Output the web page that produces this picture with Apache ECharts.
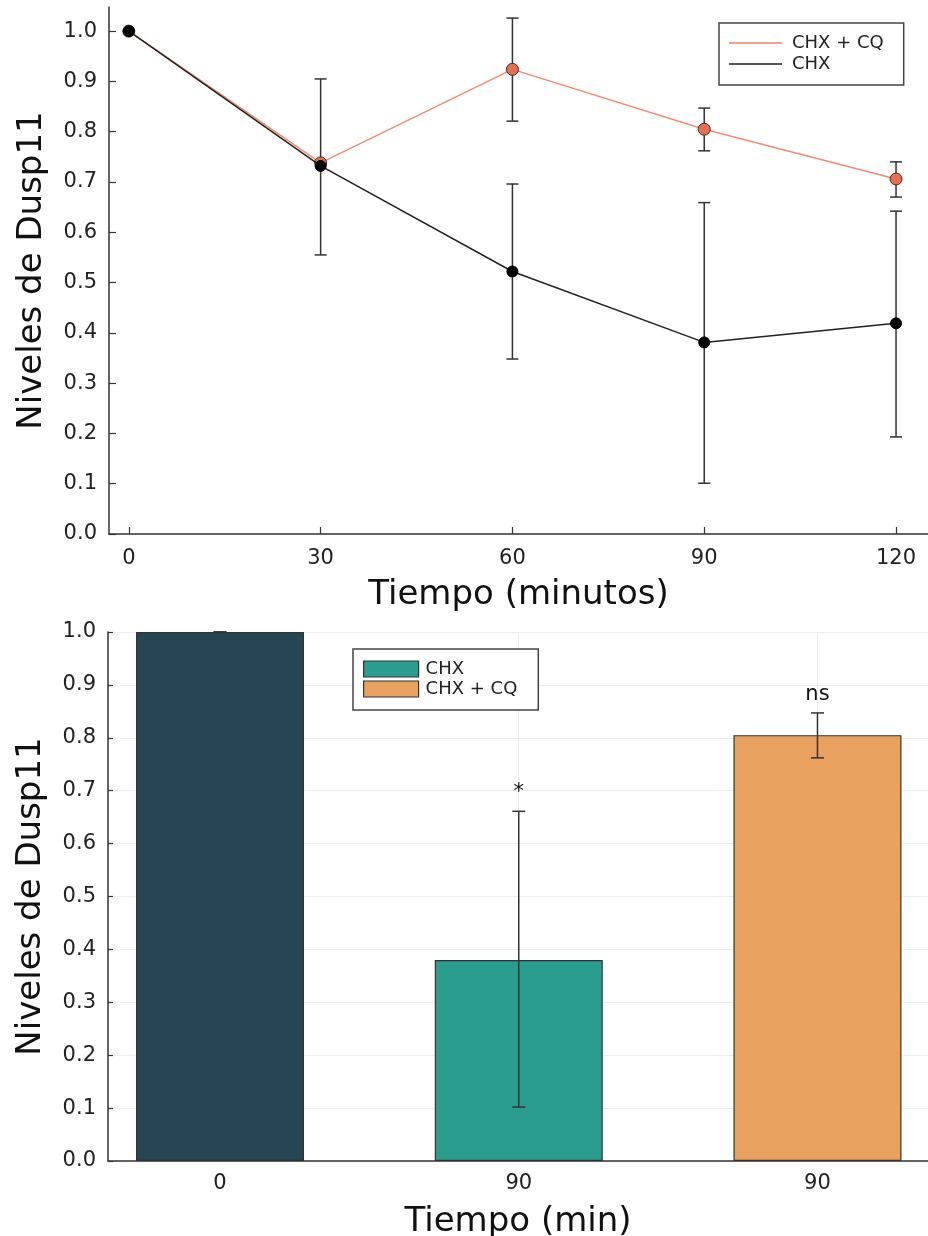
<!DOCTYPE html>
<html>
<head>
<meta charset="utf-8">
<script src="https://cdn.jsdelivr.net/npm/echarts@6/dist/echarts.min.js"></script>
<style>
  html, body { margin: 0; padding: 0; background: #fff; }
  #chart { width: 928px; height: 1236px; }
</style>
</head>
<body>
<div id="chart"></div>
<script>
// top panel: Dusp11 levels over time
const minutes = [0, 30, 60, 90, 120];
const chxCq = [1.0, 0.738, 0.924, 0.805, 0.706];
const chxCqLow = [null, null, 0.821, 0.762, 0.670];
const chxCqHigh = [null, null, 1.026, 0.847, 0.740];
const chx = [1.0, 0.732, 0.522, 0.381, 0.419];
const chxLow = [null, 0.555, 0.348, 0.101, 0.193];
const chxHigh = [null, 0.905, 0.696, 0.659, 0.642];
const minuteTicks = [0, 30, 60, 90, 120];
const levelTicks = [0, 0.1, 0.2, 0.3, 0.4, 0.5, 0.6, 0.7, 0.8, 0.9, 1.0];

// bottom panel: 0 vs 90 min
const barLabels = ["0", "90", "90"];
const barGroups = ["Control", "CHX", "CHX + CQ"];
const barValues = [1.0, 0.380, 0.805];
const barLow = [1.0, 0.102, 0.762];
const barHigh = [1.0, 0.661, 0.847];
const sigLabels = ["", "*", "ns"];

const FONT = "DejaVu Sans";
const AXIS = "#333";
const barColors = ["#264653", "#2A9D8F", "#E9A15F"];

function errorBars(xs, lows, highs) {
    const out = [];
    xs.forEach((x, i) => {
        if (lows[i] != null && highs[i] != null) out.push([x, lows[i], highs[i]]);
    });
    return out;
}

function errorBarRenderer(capHalf) {
    return function (params, api) {
        const x = api.value(0);
        const lo = api.coord([x, api.value(1)]);
        const hi = api.coord([x, api.value(2)]);
        const style = { stroke: AXIS, lineWidth: 1.5 };
        return {
            type: "group",
            children: [
                { type: "line", shape: { x1: lo[0], y1: lo[1], x2: hi[0], y2: hi[1] }, style },
                { type: "line", shape: { x1: lo[0] - capHalf, y1: lo[1], x2: lo[0] + capHalf, y2: lo[1] }, style },
                { type: "line", shape: { x1: hi[0] - capHalf, y1: hi[1], x2: hi[0] + capHalf, y2: hi[1] }, style },
            ],
        };
    };
}

function valueAxis(extra) {
    const base = {
        type: "value",
        axisLine: { show: true, onZero: false, lineStyle: { color: AXIS, width: 1.5 } },
        axisTick: { show: true, inside: true, length: 6, lineStyle: { color: AXIS, width: 1.2 } },
        axisLabel: { fontFamily: FONT, fontSize: 21, color: "#222", margin: 12 },
        splitLine: { show: false },
        nameLocation: "middle",
        nameTextStyle: { fontFamily: FONT, fontSize: 34, color: "#111" },
    };
    const out = { ...base, ...extra };
    for (const k of ["axisLine", "axisTick", "axisLabel", "splitLine", "nameTextStyle"]) {
        if (extra[k]) out[k] = { ...base[k], ...extra[k] };
    }
    return out;
}

const chart = echarts.init(document.getElementById("chart"), null, { renderer: "canvas" });

const option = {
    backgroundColor: "#fff",
    animation: false,
    textStyle: { fontFamily: FONT },
    grid: [
        { left: 109, top: 7, right: 0, height: 527, outerBoundsMode: "none" },
        { left: 108, top: 632, right: 0, height: 529, outerBoundsMode: "none" },
    ],
    legend: [
        {
            orient: "vertical",
            left: 719,
            top: 23,
            icon: "rect",
            itemWidth: 53,
            itemHeight: 2,
            itemGap: 3,
            padding: [11, 20, 12, 10],
            borderColor: "#444",
            borderWidth: 1.5,
            backgroundColor: "#fff",
            textStyle: { fontFamily: FONT, fontSize: 18, color: "#222", lineHeight: 18, padding: [0, 0, 0, 5] },
            data: [
                { name: "CHX + CQ", itemStyle: { color: "#F5A08E", borderWidth: 0 } },
                { name: "CHX", itemStyle: { color: "#555", borderWidth: 0 } },
            ],
            selectedMode: false,
        },
        {
            orient: "vertical",
            left: 353,
            top: 649,
            icon: "rect",
            itemWidth: 55,
            itemHeight: 16,
            itemGap: 2,
            padding: [11, 21, 12, 10],
            borderColor: "#444",
            borderWidth: 1.5,
            backgroundColor: "#fff",
            textStyle: { fontFamily: FONT, fontSize: 18, color: "#222", lineHeight: 18, padding: [0, 0, 0, 2] },
            data: [
                { name: "CHX", itemStyle: { color: barColors[1], borderColor: AXIS, borderWidth: 1.2 } },
                { name: "CHX + CQ", itemStyle: { color: barColors[2], borderColor: AXIS, borderWidth: 1.2 } },
            ],
            selectedMode: false,
        },
    ],
    xAxis: [
        valueAxis({
            gridIndex: 0,
            min: -3.1,
            max: 125,
            axisTick: { customValues: minuteTicks, length: 7 },
            axisLabel: { customValues: minuteTicks, margin: 14 },
            name: "Tiempo (minutos)",
            nameGap: 44,
        }),
        valueAxis({
            gridIndex: 1,
            min: 0.625,
            max: 3.37,
            axisTick: { customValues: [1, 2, 3], length: 5 },
            axisLabel: {
                customValues: [1, 2, 3],
                margin: 12,
                formatter: (v) => barLabels[Math.round(v) - 1],
            },
            splitLine: { show: true, lineStyle: { color: "#ececec", width: 1 } },
            name: "Tiempo (min)",
            nameGap: 44,
        }),
    ],
    yAxis: [
        valueAxis({
            gridIndex: 0,
            min: 0,
            max: 1.048,
            axisTick: { customValues: levelTicks, length: 7 },
            axisLabel: { customValues: levelTicks, formatter: (v) => v.toFixed(1) },
            name: "Niveles de Dusp11",
            nameGap: 60,
        }),
        valueAxis({
            gridIndex: 1,
            min: 0,
            max: 1,
            interval: 0.1,
            axisTick: { length: 5 },
            axisLabel: { formatter: (v) => v.toFixed(1) },
            splitLine: { show: true, lineStyle: { color: "#ececec", width: 1 } },
            name: "Niveles de Dusp11",
            nameGap: 60,
        }),
    ],
    series: [
        {
            type: "custom",
            xAxisIndex: 0,
            yAxisIndex: 0,
            z: 1,
            renderItem: errorBarRenderer(6),
            data: errorBars(minutes, chxCqLow, chxCqHigh),
        },
        {
            type: "custom",
            xAxisIndex: 0,
            yAxisIndex: 0,
            z: 1,
            renderItem: errorBarRenderer(6),
            data: errorBars(minutes, chxLow, chxHigh),
        },
        {
            name: "CHX + CQ",
            type: "line",
            xAxisIndex: 0,
            yAxisIndex: 0,
            z: 2,
            symbol: "circle",
            symbolSize: 12,
            itemStyle: { color: "#E76F51", borderColor: "#4a2a20", borderWidth: 1 },
            lineStyle: { color: "#F28B73", width: 1.5 },
            data: minutes.map((m, i) => [m, chxCq[i]]),
        },
        {
            name: "CHX",
            type: "line",
            xAxisIndex: 0,
            yAxisIndex: 0,
            z: 3,
            symbol: "circle",
            symbolSize: 11,
            itemStyle: { color: "#000", borderColor: "#000", borderWidth: 1 },
            lineStyle: { color: "#222", width: 1.5 },
            data: minutes.map((m, i) => [m, chx[i]]),
        },
        ...barGroups.map((g, i) => ({
            name: g,
            type: "bar",
            xAxisIndex: 1,
            yAxisIndex: 1,
            barWidth: 168,
            barGap: "-100%",
            itemStyle: { color: barColors[i], borderColor: AXIS, borderWidth: 1.2 },
            data: [[i + 1, barValues[i]]],
        })),
        {
            type: "custom",
            xAxisIndex: 1,
            yAxisIndex: 1,
            z: 4,
            renderItem: errorBarRenderer(6.5),
            data: barValues.map((v, i) => [i + 1, barLow[i], barHigh[i]]),
        },
        {
            type: "custom",
            xAxisIndex: 1,
            yAxisIndex: 1,
            z: 4,
            renderItem: (params, api) => {
                const p = api.coord([api.value(0), api.value(1)]);
                return {
                    type: "text",
                    x: p[0],
                    y: p[1] - 8,
                    style: {
                        text: sigLabels[params.dataIndex],
                        fontFamily: FONT,
                        fontSize: 21,
                        fill: "#111",
                        align: "center",
                        verticalAlign: "bottom",
                    },
                };
            },
            data: barHigh.map((h, i) => [i + 1, h]),
        },
    ],
};

chart.setOption(option);
</script>
</body>
</html>
